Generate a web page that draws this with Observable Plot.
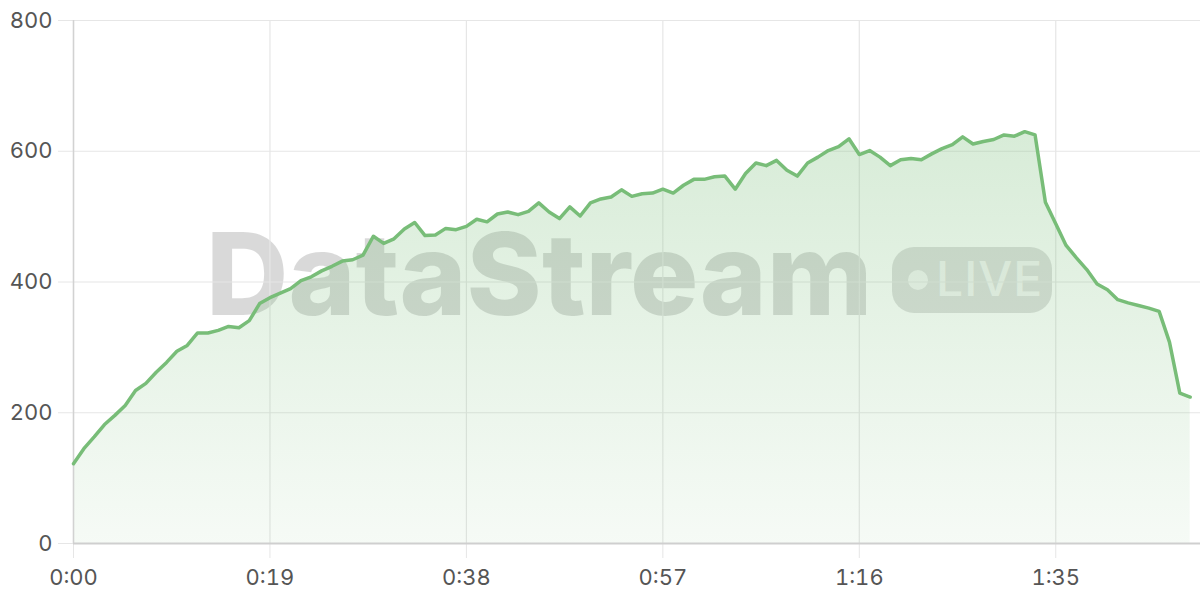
<!DOCTYPE html>
<html>
<head>
<meta charset="utf-8">
<script src="https://cdn.jsdelivr.net/npm/d3@7"></script>
<script src="https://cdn.jsdelivr.net/npm/@observablehq/plot@0.6"></script>
<style>
  html, body { margin: 0; padding: 0; background: #fff; }
  #wrap { position: relative; width: 1200px; height: 600px; overflow: hidden; }
  #wm { position: absolute; left: 0; top: 0; width: 1200px; height: 600px; z-index: 0; pointer-events: none; }
  #wm .word { position: absolute; left: 206px; top: 217px; font-family: Inter, "Open Sans", sans-serif; font-weight: 800; font-size: 114px; letter-spacing: 0px; color: rgba(0,0,0,0.15); line-height: 1; white-space: nowrap; }
  #wm .badge { position: absolute; left: 892px; top: 247px; width: 160px; height: 66px; border-radius: 22px; background: rgba(0,0,0,0.13); }
  #wm .dot { position: absolute; left: 16px; top: 23px; width: 20px; height: 20px; border-radius: 50%; background: rgba(255,255,255,0.7); }
  #wm .live { position: absolute; left: 44px; top: 8px; font-family: Inter, "Open Sans", sans-serif; font-weight: 500; font-size: 48px; color: rgba(255,255,255,0.7); line-height: 1; letter-spacing: 1px; }
  #chart { position: absolute; left: 0; top: 0; z-index: 1; }
</style>
</head>
<body>
<div id="wrap">
  <div id="wm">
    <div class="word">DataStream</div>
    <div class="badge"><div class="dot"></div><div class="live">LIVE</div></div>
  </div>
  <div id="chart"></div>
</div>
<script>
// Values per second (0:00 .. 1:48)
const values = [
  122,145,163,182,196,211,234,245,262,277,294,303,322,322,326,332,330,341,367,376,
  383,390,402,408,417,424,432,434,441,470,459,466,481,491,471,472,482,480,485,496,
  492,504,507,503,508,521,507,497,515,501,521,527,530,541,531,535,536,542,536,548,
  557,557,561,562,542,566,582,578,586,571,562,582,591,601,607,619,595,601,591,578,
  587,589,587,596,604,610,622,611,615,618,625,623,630,625,522,489,456,437,419,397,
  388,373,368,364,360,355,308,230,224
];
const xTicks = [0, 19, 38, 57, 76, 95];
const yTicks = [0, 200, 400, 600, 800];

const data = values.map((v, i) => ({t: i, v}));
const fmt = s => `${Math.floor(s / 60)}:${String(s % 60).padStart(2, "0")}`;

const plot = Plot.plot({
  width: 1200,
  height: 600,
  marginLeft: 73,
  marginRight: 0,
  marginTop: 20,
  marginBottom: 57,
  style: {fontFamily: "Inter, sans-serif", fontSize: "22px", background: "transparent", overflow: "visible"},
  x: {domain: [0, 109]},
  y: {domain: [0, 800]},
  marks: [
    Plot.gridY(yTicks, {stroke: "#e6e6e6", strokeOpacity: 1, strokeWidth: 1.2}),
    Plot.gridX(xTicks, {stroke: "#e6e6e6", strokeOpacity: 1, strokeWidth: 1.2}),
    Plot.axisY(yTicks, {tickSize: 15, tickPadding: 6, stroke: "#e6e6e6", fill: "#555", label: null}),
    Plot.axisX(xTicks, {tickSize: 15, tickPadding: 11, stroke: "#e6e6e6", fill: "#555", tickFormat: fmt, label: null}),
    Plot.areaY(data, {x: "t", y: "v", fill: "url(#areaGrad)"}),
    Plot.ruleX([0], {stroke: "#d2d2d2", strokeWidth: 1.5}),
    Plot.ruleY([0], {stroke: "#cfcfcf", strokeWidth: 2}),
    Plot.lineY(data, {x: "t", y: "v", stroke: "#78bd78", strokeWidth: 3.5, strokeLinejoin: "round"})
  ]
});

const grad = d3.select(plot).insert("defs", ":first-child")
  .append("linearGradient")
  .attr("id", "areaGrad")
  .attr("x1", 0).attr("y1", 0).attr("x2", 0).attr("y2", 1);
grad.append("stop").attr("offset", "0%").attr("stop-color", "#7cbf7c").attr("stop-opacity", 0.3);
grad.append("stop").attr("offset", "100%").attr("stop-color", "#7cbf7c").attr("stop-opacity", 0.07);

document.getElementById("chart").appendChild(plot);
</script>
</body>
</html>
